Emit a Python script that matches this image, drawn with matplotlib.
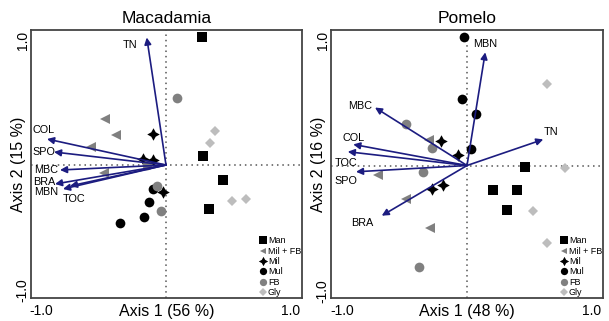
import numpy as np
import matplotlib
matplotlib.use("Agg")
import matplotlib.pyplot as plt

plt.rcParams['font.family'] = ['Liberation Sans', 'DejaVu Sans']

# treatment groups (order used in every list below)
groups = ["Man", "Mil + FB", "Mil", "Mul", "FB", "Gly"]

# Macadamia sample scores (axis 1, axis 2) per group
mac_x = [[0.285, 0.298, 0.458, 0.344],
         [-0.488, -0.400, -0.600, -0.496],
         [-0.106, -0.182, -0.106, -0.022],
         [-0.104, -0.136, -0.176, -0.368],
         [0.086, -0.150, -0.075, -0.040],
         [0.392, 0.352, 0.528, 0.640]]
mac_y = [[1.022, 0.074, -0.120, -0.354],
         [0.368, 0.240, 0.146, -0.062],
         [0.246, 0.048, 0.040, -0.218],
         [-0.192, -0.296, -0.416, -0.464],
         [0.534, 0.000, -0.168, -0.366],
         [0.272, 0.176, -0.288, -0.272]]

# Macadamia variable loadings
mac_vars = ["TN", "COL", "SPO", "MBC", "BRA", "MBN", "TOC"]
mac_ax = [-0.154, -0.952, -0.896, -0.848, -0.888, -0.824, -0.768]
mac_ay = [1.020, 0.208, 0.104, -0.040, -0.152, -0.192, -0.168]

# Pomelo sample scores
pom_x = [[0.464, 0.210, 0.402, 0.318],
         [-0.302, -0.710, -0.490, -0.296],
         [-0.208, -0.070, -0.282, -0.194],
         [-0.022, -0.042, 0.072, 0.032],
         [-0.488, -0.282, -0.356, -0.382],
         [0.642, 0.784, 0.530, 0.638]]
pom_y = [[-0.014, -0.192, -0.192, -0.352],
         [0.202, -0.076, -0.266, -0.496],
         [0.194, 0.082, -0.184, -0.152],
         [1.022, 0.528, 0.408, 0.134],
         [0.334, 0.142, -0.052, -0.810],
         [0.648, -0.018, -0.366, -0.618]]

# Pomelo variable loadings
pom_vars = ["MBN", "MBC", "TN", "COL", "TOC", "SPO", "BRA"]
pom_ax = [0.146, -0.736, 0.610, -0.910, -0.954, -0.888, -0.682]
pom_ay = [0.902, 0.462, 0.208, 0.168, 0.110, -0.050, -0.400]

# label offsets from arrow tips (pixels)
mac_offs = [(-17, -8), (-3, 9), (-10, 0), (-14, 0), (-11, 2), (-17, -3), (4, -13)]
pom_offs = [(0, 8), (-15, 2), (8, 7), (0, 6), (-2, -11), (-10, -9), (-20, -7)]

markers = ['s', '<', (4, 1, 0), 'o', 'o', 'D']
colors = ['black', '#808080', 'black', 'black', '#808080', '#bdbdbd']
msizes = [7, 6.5, 9, 7, 7, 5.5]
navy = '#1c1c80'

fig = plt.figure(figsize=(6.09, 3.21), dpi=100)
ax1 = fig.add_axes([31/609, 1-298/321, 271/609, 268/321])
ax2 = fig.add_axes([331/609, 1-298/321, 272/609, 268/321])


def panel(ax, title, xs, ys, names, axx, axy, offs, xlab, ylab, xlim, ylim):
    ax.axhline(0, color='#555555', ls=(0, (1, 2.5)), lw=1.1, zorder=1)
    ax.axvline(0, color='#555555', ls=(0, (1, 2.5)), lw=1.1, zorder=1)
    for i, g in enumerate(groups):
        ax.plot(xs[i], ys[i], ls='none', marker=markers[i], color=colors[i],
                markersize=msizes[i], markeredgewidth=0, label=g, zorder=3)
    for n, vx, vy, o in zip(names, axx, axy, offs):
        ax.annotate('', xy=(vx, vy), xytext=(0, 0),
                    arrowprops=dict(arrowstyle='-|>', color=navy, lw=1.2,
                                    mutation_scale=10, shrinkA=0, shrinkB=0),
                    zorder=4)
        ax.annotate(n, xy=(vx, vy), xytext=o, textcoords='offset pixels',
                    ha='center', va='center', fontsize=7.8, zorder=5)
    ax.set_xlim(*xlim)
    ax.set_ylim(*ylim)
    ax.set_xticks([-1, 1])
    ax.set_yticks([-1, 1])
    ax.set_xticklabels(['-1.0', '1.0'], fontsize=10)
    ax.set_yticklabels(['-1.0', '1.0'], fontsize=10, rotation=90, va='center')
    ax.tick_params(length=0)
    ax.tick_params(axis='x', pad=4)
    ax.tick_params(axis='y', pad=1)
    ax.set_xlabel(xlab, fontsize=11.5)
    ax.xaxis.set_label_coords(0.5, -0.022)
    ax.set_ylabel(ylab, fontsize=11.5)
    ax.yaxis.set_label_coords(-0.018, 0.5)
    ax.set_title(title, fontsize=12.5, pad=5)
    for s in ax.spines.values():
        s.set_color('#444444')
        s.set_linewidth(1.3)
    ax.legend(loc='lower right', frameon=False, fontsize=6.5, handlelength=0.6,
              handletextpad=0.2, labelspacing=0.15, borderpad=0.05,
              borderaxespad=0.05, markerscale=0.75)


panel(ax1, 'Macadamia', mac_x, mac_y, mac_vars, mac_ax, mac_ay, mac_offs,
      'Axis 1 (56 %)', 'Axis 2 (15 %)', (-1.08, 1.088), (-1.064, 1.08))
panel(ax2, 'Pomelo', pom_x, pom_y, pom_vars, pom_ax, pom_ay, pom_offs,
      'Axis 1 (48 %)', 'Axis 2 (16 %)', (-1.088, 1.088), (-1.056, 1.08))

fig.savefig('out.png', dpi=100)
